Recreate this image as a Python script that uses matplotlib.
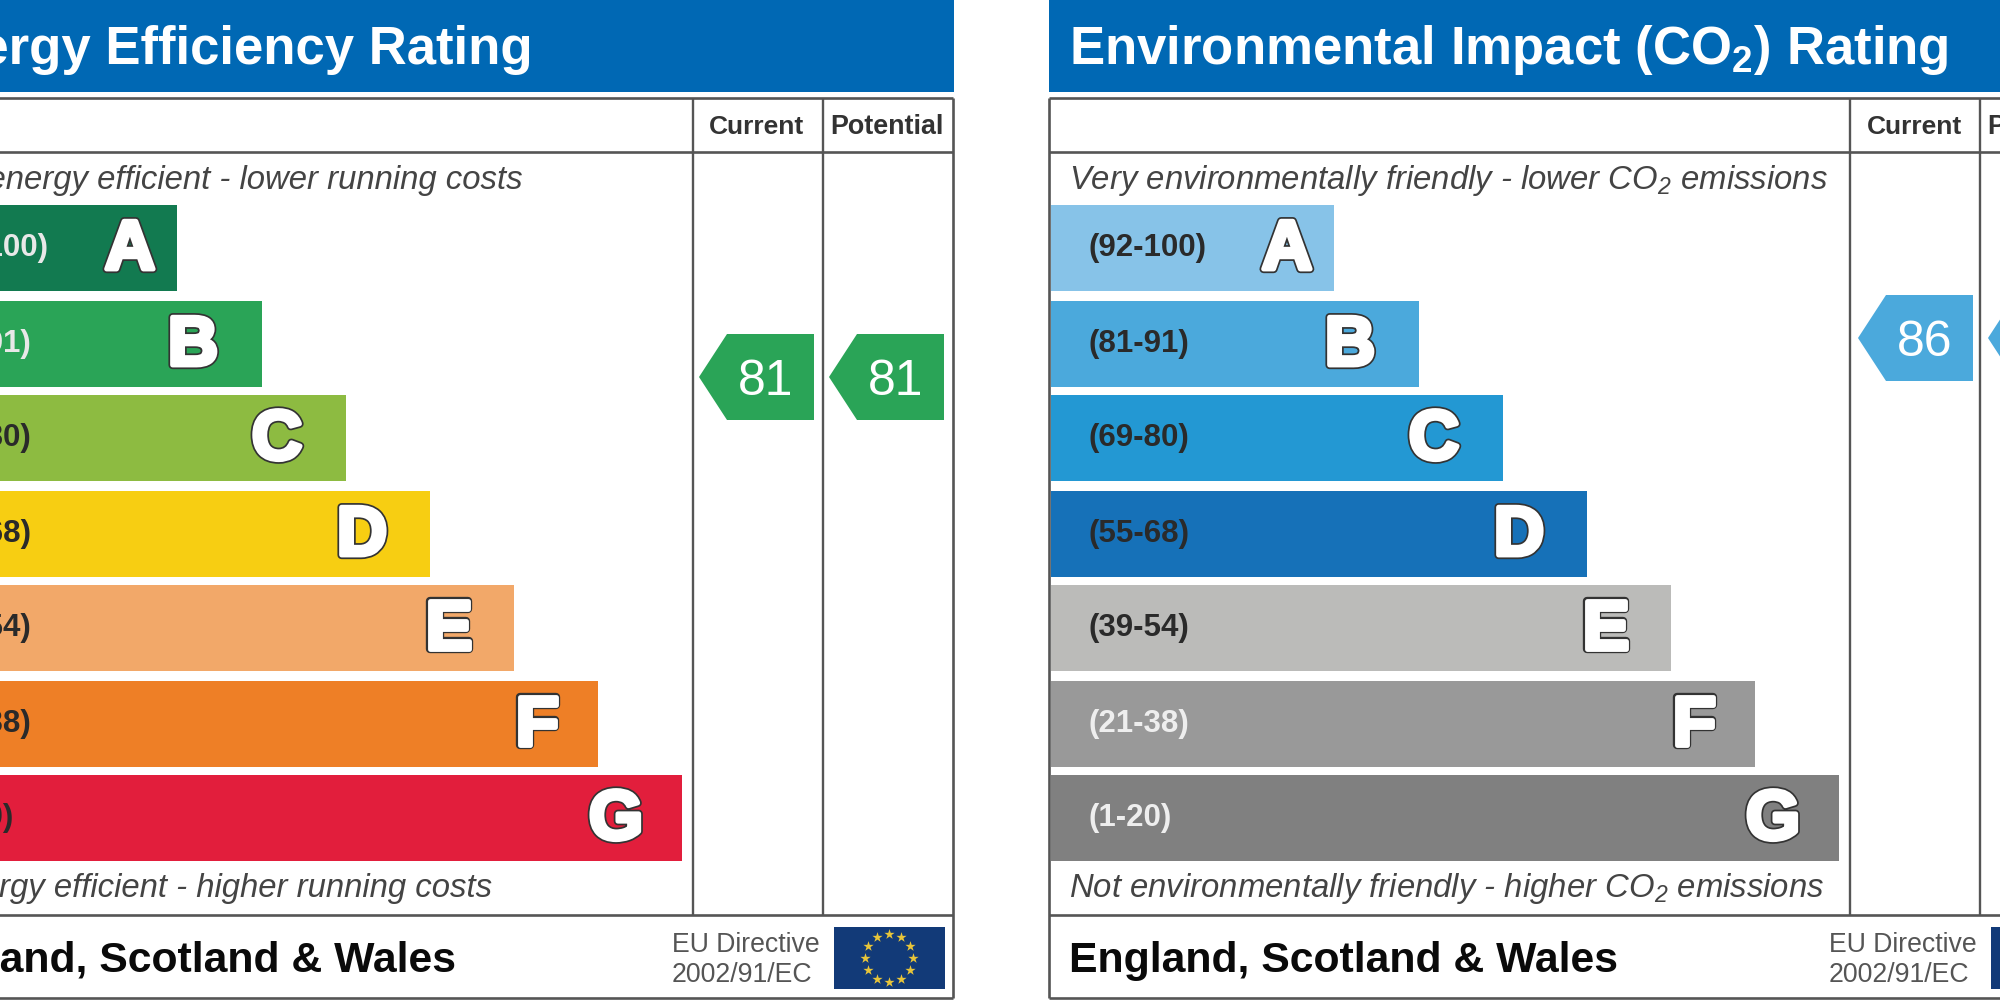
#!/usr/bin/env python3
"""Energy efficiency / environmental impact rating panels (EPC graph)."""
import matplotlib
matplotlib.use('Agg')
import matplotlib.pyplot as plt
import matplotlib.patheffects as pe
from matplotlib.patches import Polygon, Rectangle
import numpy as np

plt.rcParams['font.family'] = ['Liberation Sans', 'DejaVu Sans']
plt.rcParams['mathtext.fontset'] = 'custom'
plt.rcParams['mathtext.rm'] = 'Liberation Sans'
plt.rcParams['mathtext.it'] = 'Liberation Sans:italic'
plt.rcParams['mathtext.bf'] = 'Liberation Sans:bold'
plt.rcParams['mathtext.default'] = 'regular'

# data
BAND_LETTERS = ['A', 'B', 'C', 'D', 'E', 'F', 'G']
BAND_RANGES = ['(92-100)', '(81-91)', '(69-80)', '(55-68)', '(39-54)', '(21-38)', '(1-20)']
BAND_LENGTHS = [283, 368, 452, 536, 620, 704, 788]

ENERGY_COLORS = ['#127a50', '#2aa457', '#8dbb41', '#f7ce12', '#f2a869', '#ee7f26', '#e21e3c']
ENERGY_LABELS = ['#e8e8e8', '#e8e8e8', '#2a2a2a', '#2a2a2a', '#2a2a2a', '#2a2a2a', '#2a2a2a']
CO2_COLORS = ['#87c3e8', '#4ba9dc', '#2398d3', '#1671b8', '#bbbbb9', '#999999', '#808080']
CO2_LABELS = ['#2a2a2a', '#2a2a2a', '#2a2a2a', '#2a2a2a', '#2a2a2a', '#eeeeee', '#eeeeee']

ENERGY_CURRENT = 81
ENERGY_POTENTIAL = 81
CO2_CURRENT = 86
CO2_POTENTIAL = 86

# layout, in pixels of the 2000x1000 picture
PANEL_STEP = 1157
LEFT_X0 = -108
RIGHT_X0 = LEFT_X0 + PANEL_STEP
BAND_TOPS = [205, 301, 395, 491, 585, 681, 775]
BAND_H = 86
LETTER_INSETS = [47, 69, 69, 68, 65, 61, 66]
LINE = '#555555'
BLUE = '#0068b4'


def rating_y(r):
    # position of the pointer against the band column
    return 377 - (r - 81) * 7.8


def pointer(ax, x_left, r, color):
    y = rating_y(r)
    pts = [(x_left, y), (x_left + 28, y - 43), (x_left + 115, y - 43),
           (x_left + 115, y + 43), (x_left + 28, y + 43)]
    ax.add_patch(Polygon(pts, closed=True, fc=color, ec='none', zorder=3, clip_on=True))
    ax.text(x_left + 67, y + 5, str(r), color='white', fontsize=36, ha='center',
            va='center', zorder=4, clip_on=True)


def eu_flag(ax, x0):
    ax.add_patch(Rectangle((x0 + 942, 927), 111, 62, fc='#123a78', ec='none', zorder=3))
    angles = np.deg2rad(np.arange(0, 360, 30))
    cx, cy = x0 + 997, 958
    ax.scatter(cx + 24 * np.cos(angles), cy + 24 * np.sin(angles), s=60, marker='*',
               color='#e8c53a', linewidths=0, zorder=4)


def panel(ax, x0, title, top_text, bottom_text, colors, label_colors, current, potential,
          pointer_dx=0, bottom_dx=0, footer_dx=0):
    col1, col2, right = x0 + 801, x0 + 931, x0 + 1061

    # header
    ax.add_patch(Rectangle((x0, 0), 1062, 92, fc=BLUE, ec='none', zorder=1))
    ax.text(x0 + 20, 50, title, color='white', fontsize=38, fontweight='bold',
            va='center', clip_on=True, zorder=2)

    # table frame
    ax.hlines([98, 152, 915, 998], x0, right, color=LINE, lw=1.9, zorder=2)
    ax.vlines([x0, right], 98, 998, color=LINE, lw=1.9, zorder=2)
    ax.vlines([col1, col2], 98, 915, color=LINE, lw=1.7, zorder=2)
    ax.text((col1 + col2) / 2 - 1, 127, 'Current', color='#333333', fontsize=19,
            fontweight='bold', ha='center', va='center', clip_on=True)
    ax.text((col2 + right) / 2 - 1, 127, 'Potential', color='#333333', fontsize=19.4,
            fontweight='bold', ha='center', va='center', clip_on=True)

    ax.text(x0 + 20, 180, top_text, color='#444444', fontsize=23.7, style='italic',
            va='center', clip_on=True)
    ax.text(x0 + 20 + bottom_dx, 889, bottom_text, color='#444444', fontsize=23.7,
            style='italic', va='center', clip_on=True)

    # bands
    centers = np.array(BAND_TOPS) + BAND_H / 2
    ax.barh(centers, BAND_LENGTHS, height=BAND_H, left=x0 + 2, color=colors, zorder=2)
    stroke = [pe.withStroke(linewidth=6, foreground='#333333'),
              pe.withStroke(linewidth=3.5, foreground='white')]
    for y, ln, letter, rng, inset, lc in zip(centers, BAND_LENGTHS, BAND_LETTERS,
                                             BAND_RANGES, LETTER_INSETS, label_colors):
        ax.text(x0 + 39, y, rng, color=lc, fontsize=22.5, fontweight='bold', va='center',
                clip_on=True, zorder=3)
        ax.text(x0 + 2 + ln - inset, y + 3, letter, color='white', fontsize=50,
                fontweight='bold', ha='center', va='center', clip_on=True, zorder=3,
                path_effects=stroke)

    # pointers
    pointer(ax, x0 + 807 + pointer_dx, current, colors[1])
    pointer(ax, x0 + 937 + pointer_dx, potential, colors[1])

    # footer
    ax.text(x0 + 20 + footer_dx, 961, 'England, Scotland & Wales', color='#0a0a0a',
            fontsize=30.8, fontweight='bold', va='center', clip_on=True)
    ax.text(x0 + 780, 945, 'EU Directive', color='#555555', fontsize=19.2, va='center',
            clip_on=True)
    ax.text(x0 + 780, 975, '2002/91/EC', color='#555555', fontsize=19.2, va='center',
            clip_on=True)
    eu_flag(ax, x0)


def main():
    fig = plt.figure(figsize=(20, 10), dpi=100, facecolor='white')
    ax = fig.add_axes([0, 0, 1, 1])
    ax.set_xlim(0, 2000)
    ax.set_ylim(1000, 0)
    ax.axis('off')

    panel(ax, LEFT_X0, 'Energy Efficiency Rating',
          'Very energy efficient - lower running costs',
          'Not energy efficient - higher running costs',
          ENERGY_COLORS, ENERGY_LABELS, ENERGY_CURRENT, ENERGY_POTENTIAL,
          bottom_dx=-28, footer_dx=-5)
    panel(ax, RIGHT_X0, r'Environmental Impact (CO$_{\mathregular{2}}$) Rating',
          r'Very environmentally friendly - lower CO$_{\mathregular{2}}$ emissions',
          r'Not environmentally friendly - higher CO$_{\mathregular{2}}$ emissions',
          CO2_COLORS, CO2_LABELS, CO2_CURRENT, CO2_POTENTIAL, pointer_dx=2)

    fig.savefig('out.png', dpi=100)


if __name__ == '__main__':
    main()
